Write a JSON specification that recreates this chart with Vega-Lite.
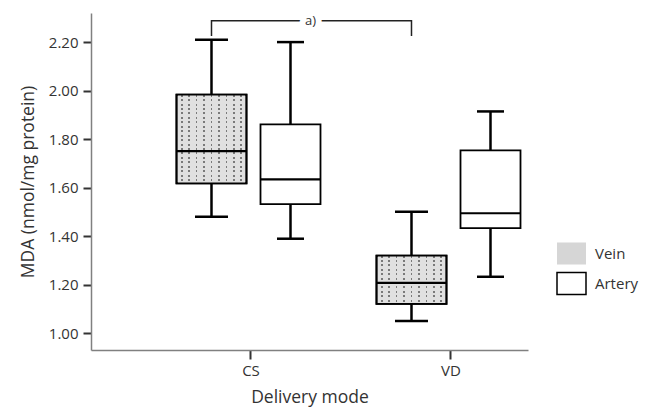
{
  "$schema": "https://vega.github.io/schema/vega-lite/v6.json",
  "autosize": {"type": "none"},
  "padding": {"left": 91, "top": 13, "right": 122, "bottom": 64},
  "width": 437,
  "height": 337,
  "background": "white",
  "config": {
    "font": "Open Sans",
    "view": {"stroke": null},
    "axis": {"grid": false, "titleFontWeight": "normal", "titleColor": "#333", "labelColor": "#333", "domainColor": "#808080", "domainWidth": 1.5, "tickColor": "#333"}
  },
  "datasets": {
    "boxes": [
      {"mode": "CS", "vessel": "Vein", "lower": 1.48, "q1": 1.617, "median": 1.75, "q3": 1.983, "upper": 2.21},
      {"mode": "CS", "vessel": "Artery", "lower": 1.389, "q1": 1.532, "median": 1.634, "q3": 1.861, "upper": 2.2},
      {"mode": "VD", "vessel": "Vein", "lower": 1.05, "q1": 1.12, "median": 1.207, "q3": 1.319, "upper": 1.5},
      {"mode": "VD", "vessel": "Artery", "lower": 1.232, "q1": 1.433, "median": 1.494, "q3": 1.753, "upper": 1.914}
    ],
    "bracket": [
      {"mode": "CS", "vessel": "Vein", "y": 2.225, "pt": 1},
      {"mode": "CS", "vessel": "Vein", "y": 2.288, "pt": 2},
      {"mode": "VD", "vessel": "Vein", "y": 2.288, "pt": 3},
      {"mode": "VD", "vessel": "Vein", "y": 2.225, "pt": 4}
    ],
    "label": [
      {"mode": "CS", "vessel": "Artery", "y": 2.288, "text": "a)"}
    ]
  },
  "data": {"name": "boxes"},
  "encoding": {
    "x": {
      "field": "mode", "type": "nominal", "title": "Delivery mode",
      "scale": {"domain": ["CS", "VD"], "paddingInner": 0.27, "paddingOuter": 0.2275, "align": 0.956},
      "axis": {"labelAngle": 0, "labelFontSize": 15, "labelPadding": 4, "tickSize": 9, "tickWidth": 2, "titleFontSize": 17.5, "titlePadding": 10}
    },
    "xOffset": {
      "field": "vessel", "type": "nominal",
      "scale": {"domain": ["Vein", "Artery"], "paddingInner": 0.152, "paddingOuter": 0}
    }
  },
  "layer": [
    {
      "mark": {"type": "rule", "color": "black", "strokeWidth": 2.5},
      "encoding": {
        "y": {
          "field": "lower", "type": "quantitative", "title": "MDA (nmol/mg protein)",
          "scale": {"domain": [0.93, 2.32], "nice": false, "zero": false},
          "axis": {"values": [1, 1.2, 1.4, 1.6, 1.8, 2, 2.2], "format": ".2f", "labelFontSize": 15, "labelPadding": 5, "tickSize": 8, "tickWidth": 2, "titleFontSize": 17.5, "titlePadding": 11}
        },
        "y2": {"field": "upper"}
      }
    },
    {
      "mark": {"type": "tick", "color": "black", "thickness": 2.5, "opacity": 1},
      "encoding": {
        "y": {"field": "lower", "type": "quantitative"},
        "size": {"field": "vessel", "type": "nominal", "scale": {"domain": ["Vein", "Artery"], "range": [33, 27]}, "legend": null}
      }
    },
    {
      "mark": {"type": "tick", "color": "black", "thickness": 2.5, "opacity": 1},
      "encoding": {
        "y": {"field": "upper", "type": "quantitative"},
        "size": {"field": "vessel", "type": "nominal", "scale": {"domain": ["Vein", "Artery"], "range": [33, 27]}, "legend": null}
      }
    },
    {
      "mark": {"type": "bar", "stroke": "black", "strokeWidth": 1.8},
      "encoding": {
        "y": {"field": "q1", "type": "quantitative"},
        "y2": {"field": "q3"},
        "fill": {
          "field": "vessel", "type": "nominal", "title": null,
          "scale": {"domain": ["Vein", "Artery"], "range": ["#d6d6d6", "#ffffff"]},
          "legend": {
            "orient": "none", "legendX": 465, "legendY": 225,
            "symbolType": "M-1,-0.76H1V0.76H-1Z", "symbolSize": 841,
            "symbolStrokeColor": "black", "symbolStrokeWidth": 1.5,
            "labelFontSize": 15, "labelColor": "#333", "labelOffset": 8, "rowPadding": 0,
            "padding": 0,
            "encode": {
              "symbols": {
                "update": {
                  "stroke": {"signal": "datum.value === 'Vein' ? 'transparent' : 'black'"}
                }
              }
            }
          }
        },
        "size": {"field": "vessel", "type": "nominal", "scale": {"domain": ["Vein", "Artery"], "range": [70, 60]}, "legend": null}
      }
    },
    {
      "transform": [{"filter": "datum.vessel === 'Vein'"}],
      "mark": {
        "type": "bar", "strokeWidth": 0,
        "fill": {
          "gradient": "linear", "x1": 0, "y1": 0, "x2": 1, "y2": 0,
          "stops": [
            {"offset": 0, "color": "#e0e0e0"},
            {"offset": 0.0426, "color": "#e0e0e0"}, {"offset": 0.0426, "color": "#7a7a7a"}, {"offset": 0.0686, "color": "#7a7a7a"}, {"offset": 0.0686, "color": "#e0e0e0"},
            {"offset": 0.1537, "color": "#e0e0e0"}, {"offset": 0.1537, "color": "#7a7a7a"}, {"offset": 0.1797, "color": "#7a7a7a"}, {"offset": 0.1797, "color": "#e0e0e0"},
            {"offset": 0.2648, "color": "#e0e0e0"}, {"offset": 0.2648, "color": "#7a7a7a"}, {"offset": 0.2908, "color": "#7a7a7a"}, {"offset": 0.2908, "color": "#e0e0e0"},
            {"offset": 0.3759, "color": "#e0e0e0"}, {"offset": 0.3759, "color": "#7a7a7a"}, {"offset": 0.4019, "color": "#7a7a7a"}, {"offset": 0.4019, "color": "#e0e0e0"},
            {"offset": 0.487, "color": "#e0e0e0"}, {"offset": 0.487, "color": "#7a7a7a"}, {"offset": 0.513, "color": "#7a7a7a"}, {"offset": 0.513, "color": "#e0e0e0"},
            {"offset": 0.5981, "color": "#e0e0e0"}, {"offset": 0.5981, "color": "#7a7a7a"}, {"offset": 0.6241, "color": "#7a7a7a"}, {"offset": 0.6241, "color": "#e0e0e0"},
            {"offset": 0.7092, "color": "#e0e0e0"}, {"offset": 0.7092, "color": "#7a7a7a"}, {"offset": 0.7352, "color": "#7a7a7a"}, {"offset": 0.7352, "color": "#e0e0e0"},
            {"offset": 0.8203, "color": "#e0e0e0"}, {"offset": 0.8203, "color": "#7a7a7a"}, {"offset": 0.8463, "color": "#7a7a7a"}, {"offset": 0.8463, "color": "#e0e0e0"},
            {"offset": 0.9314, "color": "#e0e0e0"}, {"offset": 0.9314, "color": "#7a7a7a"}, {"offset": 0.9574, "color": "#7a7a7a"}, {"offset": 0.9574, "color": "#e0e0e0"},
            {"offset": 1, "color": "#e0e0e0"}
          ]
        }
      },
      "encoding": {
        "y": {"field": "q1", "type": "quantitative"},
        "y2": {"field": "q3"},
        "size": {"value": 67}
      }
    },
    {
      "transform": [{"filter": "datum.vessel === 'Vein' && datum.mode === 'CS'"}],
      "mark": {
        "type": "bar", "strokeWidth": 0,
        "fill": {
          "gradient": "linear", "x1": 0, "y1": 0, "x2": 0, "y2": 1,
          "stops": [
            {"offset": 0, "color": "rgba(224,224,224,0)"}, {"offset": 0.0225, "color": "rgba(224,224,224,0)"}, {"offset": 0.0225, "color": "#e0e0e0"}, {"offset": 0.05, "color": "#e0e0e0"},
            {"offset": 0.05, "color": "rgba(224,224,224,0)"}, {"offset": 0.0725, "color": "rgba(224,224,224,0)"}, {"offset": 0.0725, "color": "#e0e0e0"}, {"offset": 0.1, "color": "#e0e0e0"},
            {"offset": 0.1, "color": "rgba(224,224,224,0)"}, {"offset": 0.1225, "color": "rgba(224,224,224,0)"}, {"offset": 0.1225, "color": "#e0e0e0"}, {"offset": 0.15, "color": "#e0e0e0"},
            {"offset": 0.15, "color": "rgba(224,224,224,0)"}, {"offset": 0.1725, "color": "rgba(224,224,224,0)"}, {"offset": 0.1725, "color": "#e0e0e0"}, {"offset": 0.2, "color": "#e0e0e0"},
            {"offset": 0.2, "color": "rgba(224,224,224,0)"}, {"offset": 0.2225, "color": "rgba(224,224,224,0)"}, {"offset": 0.2225, "color": "#e0e0e0"}, {"offset": 0.25, "color": "#e0e0e0"},
            {"offset": 0.25, "color": "rgba(224,224,224,0)"}, {"offset": 0.2725, "color": "rgba(224,224,224,0)"}, {"offset": 0.2725, "color": "#e0e0e0"}, {"offset": 0.3, "color": "#e0e0e0"},
            {"offset": 0.3, "color": "rgba(224,224,224,0)"}, {"offset": 0.3225, "color": "rgba(224,224,224,0)"}, {"offset": 0.3225, "color": "#e0e0e0"}, {"offset": 0.35, "color": "#e0e0e0"},
            {"offset": 0.35, "color": "rgba(224,224,224,0)"}, {"offset": 0.3725, "color": "rgba(224,224,224,0)"}, {"offset": 0.3725, "color": "#e0e0e0"}, {"offset": 0.4, "color": "#e0e0e0"},
            {"offset": 0.4, "color": "rgba(224,224,224,0)"}, {"offset": 0.4225, "color": "rgba(224,224,224,0)"}, {"offset": 0.4225, "color": "#e0e0e0"}, {"offset": 0.45, "color": "#e0e0e0"},
            {"offset": 0.45, "color": "rgba(224,224,224,0)"}, {"offset": 0.4725, "color": "rgba(224,224,224,0)"}, {"offset": 0.4725, "color": "#e0e0e0"}, {"offset": 0.5, "color": "#e0e0e0"},
            {"offset": 0.5, "color": "rgba(224,224,224,0)"}, {"offset": 0.5225, "color": "rgba(224,224,224,0)"}, {"offset": 0.5225, "color": "#e0e0e0"}, {"offset": 0.55, "color": "#e0e0e0"},
            {"offset": 0.55, "color": "rgba(224,224,224,0)"}, {"offset": 0.5725, "color": "rgba(224,224,224,0)"}, {"offset": 0.5725, "color": "#e0e0e0"}, {"offset": 0.6, "color": "#e0e0e0"},
            {"offset": 0.6, "color": "rgba(224,224,224,0)"}, {"offset": 0.6225, "color": "rgba(224,224,224,0)"}, {"offset": 0.6225, "color": "#e0e0e0"}, {"offset": 0.65, "color": "#e0e0e0"},
            {"offset": 0.65, "color": "rgba(224,224,224,0)"}, {"offset": 0.6725, "color": "rgba(224,224,224,0)"}, {"offset": 0.6725, "color": "#e0e0e0"}, {"offset": 0.7, "color": "#e0e0e0"},
            {"offset": 0.7, "color": "rgba(224,224,224,0)"}, {"offset": 0.7225, "color": "rgba(224,224,224,0)"}, {"offset": 0.7225, "color": "#e0e0e0"}, {"offset": 0.75, "color": "#e0e0e0"},
            {"offset": 0.75, "color": "rgba(224,224,224,0)"}, {"offset": 0.7725, "color": "rgba(224,224,224,0)"}, {"offset": 0.7725, "color": "#e0e0e0"}, {"offset": 0.8, "color": "#e0e0e0"},
            {"offset": 0.8, "color": "rgba(224,224,224,0)"}, {"offset": 0.8225, "color": "rgba(224,224,224,0)"}, {"offset": 0.8225, "color": "#e0e0e0"}, {"offset": 0.85, "color": "#e0e0e0"},
            {"offset": 0.85, "color": "rgba(224,224,224,0)"}, {"offset": 0.8725, "color": "rgba(224,224,224,0)"}, {"offset": 0.8725, "color": "#e0e0e0"}, {"offset": 0.9, "color": "#e0e0e0"},
            {"offset": 0.9, "color": "rgba(224,224,224,0)"}, {"offset": 0.9225, "color": "rgba(224,224,224,0)"}, {"offset": 0.9225, "color": "#e0e0e0"}, {"offset": 0.95, "color": "#e0e0e0"},
            {"offset": 0.95, "color": "rgba(224,224,224,0)"}, {"offset": 0.9725, "color": "rgba(224,224,224,0)"}, {"offset": 0.9725, "color": "#e0e0e0"}, {"offset": 1, "color": "#e0e0e0"}
          ]
        }
      },
      "encoding": {
        "y": {"field": "q1", "type": "quantitative"},
        "y2": {"field": "q3"},
        "size": {"value": 67}
      }
    },
    {
      "transform": [{"filter": "datum.vessel === 'Vein' && datum.mode === 'VD'"}],
      "mark": {
        "type": "bar", "strokeWidth": 0,
        "fill": {
          "gradient": "linear", "x1": 0, "y1": 0, "x2": 0, "y2": 1,
          "stops": [
            {"offset": 0, "color": "rgba(224,224,224,0)"}, {"offset": 0.0409, "color": "rgba(224,224,224,0)"}, {"offset": 0.0409, "color": "#e0e0e0"}, {"offset": 0.0909, "color": "#e0e0e0"},
            {"offset": 0.0909, "color": "rgba(224,224,224,0)"}, {"offset": 0.1318, "color": "rgba(224,224,224,0)"}, {"offset": 0.1318, "color": "#e0e0e0"}, {"offset": 0.1818, "color": "#e0e0e0"},
            {"offset": 0.1818, "color": "rgba(224,224,224,0)"}, {"offset": 0.2227, "color": "rgba(224,224,224,0)"}, {"offset": 0.2227, "color": "#e0e0e0"}, {"offset": 0.2727, "color": "#e0e0e0"},
            {"offset": 0.2727, "color": "rgba(224,224,224,0)"}, {"offset": 0.3136, "color": "rgba(224,224,224,0)"}, {"offset": 0.3136, "color": "#e0e0e0"}, {"offset": 0.3636, "color": "#e0e0e0"},
            {"offset": 0.3636, "color": "rgba(224,224,224,0)"}, {"offset": 0.4045, "color": "rgba(224,224,224,0)"}, {"offset": 0.4045, "color": "#e0e0e0"}, {"offset": 0.4545, "color": "#e0e0e0"},
            {"offset": 0.4545, "color": "rgba(224,224,224,0)"}, {"offset": 0.4955, "color": "rgba(224,224,224,0)"}, {"offset": 0.4955, "color": "#e0e0e0"}, {"offset": 0.5455, "color": "#e0e0e0"},
            {"offset": 0.5455, "color": "rgba(224,224,224,0)"}, {"offset": 0.5864, "color": "rgba(224,224,224,0)"}, {"offset": 0.5864, "color": "#e0e0e0"}, {"offset": 0.6364, "color": "#e0e0e0"},
            {"offset": 0.6364, "color": "rgba(224,224,224,0)"}, {"offset": 0.6773, "color": "rgba(224,224,224,0)"}, {"offset": 0.6773, "color": "#e0e0e0"}, {"offset": 0.7273, "color": "#e0e0e0"},
            {"offset": 0.7273, "color": "rgba(224,224,224,0)"}, {"offset": 0.7682, "color": "rgba(224,224,224,0)"}, {"offset": 0.7682, "color": "#e0e0e0"}, {"offset": 0.8182, "color": "#e0e0e0"},
            {"offset": 0.8182, "color": "rgba(224,224,224,0)"}, {"offset": 0.8591, "color": "rgba(224,224,224,0)"}, {"offset": 0.8591, "color": "#e0e0e0"}, {"offset": 0.9091, "color": "#e0e0e0"},
            {"offset": 0.9091, "color": "rgba(224,224,224,0)"}, {"offset": 0.95, "color": "rgba(224,224,224,0)"}, {"offset": 0.95, "color": "#e0e0e0"}, {"offset": 1, "color": "#e0e0e0"}
          ]
        }
      },
      "encoding": {
        "y": {"field": "q1", "type": "quantitative"},
        "y2": {"field": "q3"},
        "size": {"value": 67}
      }
    },
    {
      "transform": [{"filter": "datum.vessel === 'Vein'"}],
      "mark": {"type": "bar", "fill": null, "fillOpacity": 0, "stroke": "black", "strokeWidth": 1.8},
      "encoding": {
        "y": {"field": "q1", "type": "quantitative"},
        "y2": {"field": "q3"},
        "size": {"value": 70}
      }
    },
    {
      "mark": {"type": "tick", "color": "black", "thickness": 2.2, "opacity": 1},
      "encoding": {
        "y": {"field": "median", "type": "quantitative"},
        "size": {"field": "vessel", "type": "nominal", "scale": {"domain": ["Vein", "Artery"], "range": [70, 60]}, "legend": null}
      }
    },
    {
      "data": {"name": "bracket"},
      "mark": {"type": "line", "color": "#222", "strokeWidth": 1.5},
      "encoding": {
        "y": {"field": "y", "type": "quantitative"},
        "order": {"field": "pt", "type": "quantitative"}
      }
    },
    {
      "data": {"name": "label"},
      "mark": {"type": "text", "dx": 20, "fontSize": 13, "baseline": "middle", "align": "center", "stroke": "white", "strokeWidth": 12, "fill": "white"},
      "encoding": {
        "y": {"field": "y", "type": "quantitative"},
        "text": {"field": "text"}
      }
    },
    {
      "data": {"name": "label"},
      "mark": {"type": "text", "dx": 20, "fontSize": 13, "baseline": "middle", "align": "center", "color": "#333"},
      "encoding": {
        "y": {"field": "y", "type": "quantitative"},
        "text": {"field": "text"}
      }
    }
  ],
  "resolve": {"scale": {"size": "independent"}}
}
